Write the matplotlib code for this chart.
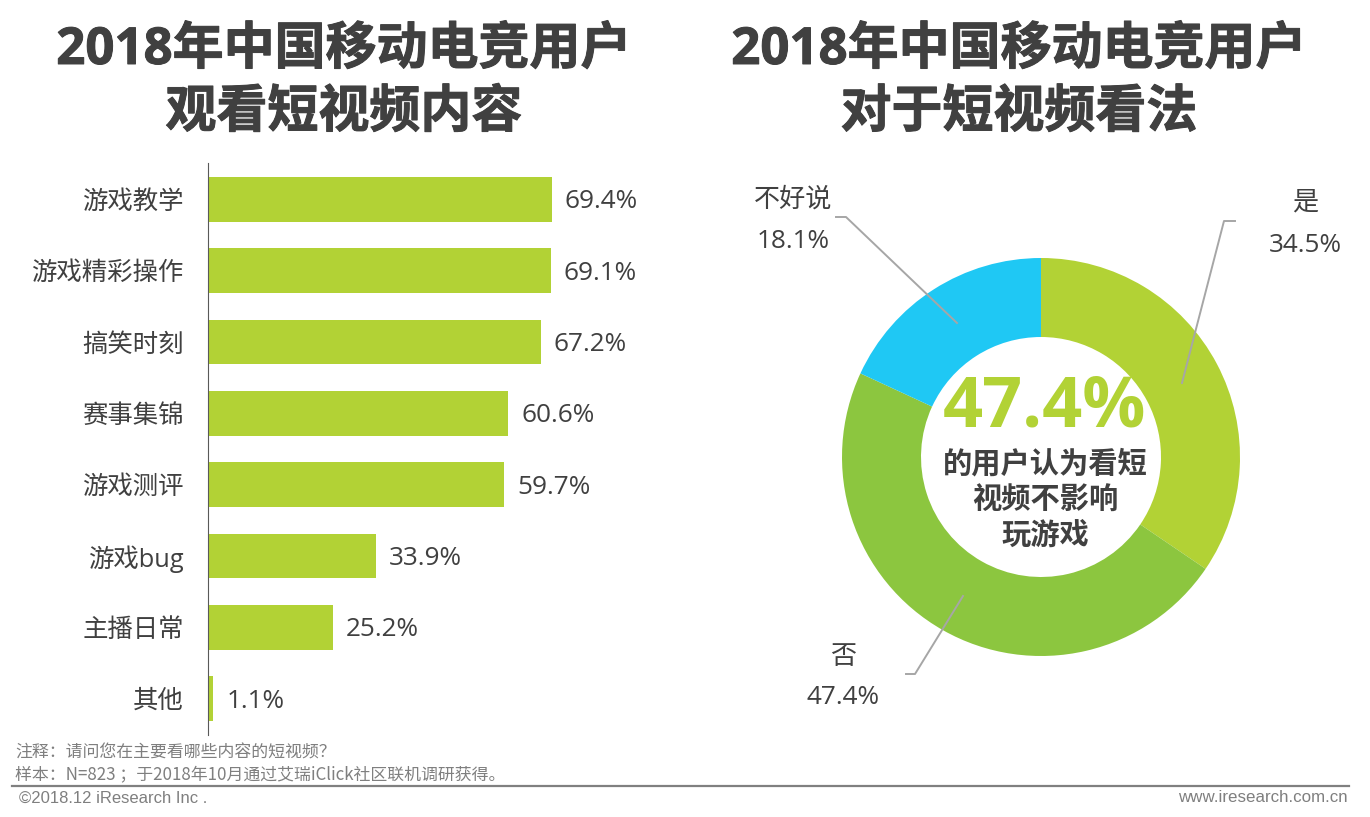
import matplotlib
matplotlib.use("Agg")
import matplotlib.pyplot as plt
import matplotlib.patheffects as pe

plt.rcParams["font.family"] = ["Open Sans", "Noto Sans CJK SC", "DejaVu Sans"]

W, H = 1370, 817
DARK = "#404040"
GREY = "#7f7f7f"
LEADER = "#a6a6a6"

# left chart
categories = ["游戏教学", "游戏精彩操作", "搞笑时刻", "赛事集锦", "游戏测评", "游戏bug", "主播日常", "其他"]
share = [69.4, 69.1, 67.2, 60.6, 59.7, 33.9, 25.2, 1.1]

# right chart
opinions = ["是", "否", "不好说"]
opinion_share = [34.5, 47.4, 18.1]
opinion_colors = ["#b2d235", "#8cc63f", "#1fc8f4"]


def px_axes(left, top, right, bottom):
    return fig.add_axes([left / W, 1 - bottom / H, (right - left) / W, (bottom - top) / H])


fig = plt.figure(figsize=(W / 100, H / 100), dpi=100, facecolor="white")

# bars
ax = px_axes(208, 163, 708, 735)
y = list(range(len(categories)))
ax.barh(y, share, height=0.63, color="#b2d235")
ax.set_ylim(len(categories) - 0.5 + 0.01, -0.5 - 0.01)
ax.set_xlim(0, 500 / 4.957)
ax.set_yticks(y)
ax.set_yticklabels(categories, fontsize=18.3, color=DARK)
ax.set_xticks([])
ax.tick_params(axis="y", length=0, pad=17.5)
for side in ["top", "right", "bottom"]:
    ax.spines[side].set_visible(False)
ax.spines["left"].set_color("#595959")
ax.spines["left"].set_linewidth(0.8)
ax.patch.set_alpha(0)
for yy, v in zip(y, share):
    ax.text(v + 2.6, yy + 0.035, f"{v}%", va="center", ha="left", fontsize=18.8, color=DARK)

# donut
ax2 = px_axes(1041 - 199, 457 - 199, 1041 + 199, 457 + 199)
ax2.pie(opinion_share, colors=opinion_colors, startangle=90, counterclock=False,
        radius=1, wedgeprops={"width": 79 / 199, "linewidth": 0})
ax2.set_xlim(-1, 1)
ax2.set_ylim(-1, 1)

# overlay in pixel coordinates for titles, callouts and footer
ov = fig.add_axes([0, 0, 1, 1], facecolor="none")
ov.set_xlim(0, W)
ov.set_ylim(H, 0)
ov.axis("off")

heavy = [pe.withStroke(linewidth=0.7, foreground=DARK)]
for cx, lines in [(344, ["2018年中国移动电竞用户", "观看短视频内容"]),
                  (1019, ["2018年中国移动电竞用户", "对于短视频看法"])]:
    for ty, line in zip([51, 114], lines):
        ov.text(cx, ty, line, ha="center", va="center", fontsize=36.7, fontweight="bold",
                color=DARK, family=["Open Sans", "Noto Sans CJK SC"], path_effects=heavy)

# callouts
callouts = [
    (1305, 203, 245, [(1235, 221), (1224, 221), (1182, 383)]),
    (843, 657, 697, [(906, 674), (915, 674), (963, 596)]),
    (793, 200, 241, [(836, 217), (846, 217), (957, 323)]),
]
for (lx, ly1, ly2, pts), name, v in zip(callouts, opinions, opinion_share):
    ov.text(lx, ly1, name, ha="center", va="center", fontsize=18.8, color=DARK)
    ov.text(lx, ly2, f"{v}%", ha="center", va="center", fontsize=18.8, color=DARK)
    ov.plot([p[0] for p in pts], [p[1] for p in pts], color=LEADER, lw=1.4)

# centre text
ov.text(1044, 408, f"{opinion_share[1]}%", ha="center", va="center", fontsize=50.5,
        fontweight="bold", color="#b2d235")
for ty, line in zip([465, 501, 536], ["的用户认为看短", "视频不影响", "玩游戏"]):
    ov.text(1045, ty, line, ha="center", va="center", fontsize=21.1, fontweight="bold", color=DARK)

# footer
cjk = ["Noto Sans CJK SC", "DejaVu Sans"]
ov.text(15, 753, "注释：请问您在主要看哪些内容的短视频？", ha="left", va="center", fontsize=12.2,
        color=GREY, family=cjk)
ov.text(15, 774, "样本：N=823 ；于2018年10月通过艾瑞iClick社区联机调研获得。", ha="left", va="center",
        fontsize=12.2, color=GREY, family=cjk)
ov.plot([12, 1349], [786, 786], color="#808080", lw=1.6)
ov.text(19, 798, "©2018.12 iResearch Inc .", ha="left", va="center", fontsize=12,
        color=GREY, family="Liberation Sans")
ov.text(1348, 798, "www.iresearch.com.cn", ha="right", va="center", fontsize=12.2,
        color=GREY, family="Liberation Sans")

fig.savefig("out.png", dpi=100)
